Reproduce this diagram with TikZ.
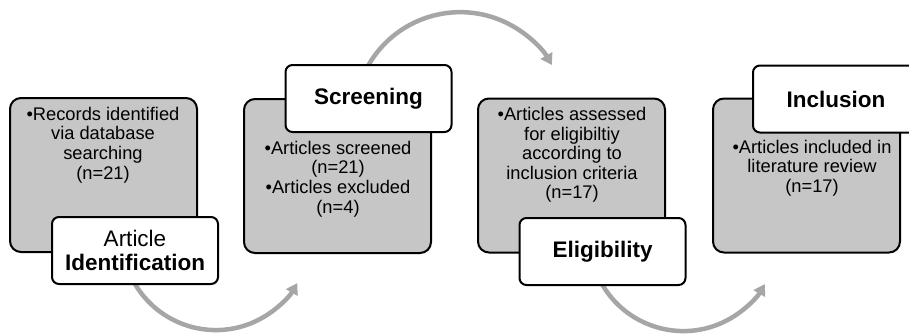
\documentclass[tikz,border=0pt]{standalone}
\usepackage{fontspec}
\setmainfont{Liberation Sans}
\usetikzlibrary{arrows.meta}
\definecolor{boxgray}{HTML}{C6C6C6}
\definecolor{arrgray}{HTML}{A6A6A6}
\tikzset{
  graybox/.style={draw=black, line width=2pt, fill=boxgray, rounded corners=11pt,
    minimum width=187pt, minimum height=154pt, inner sep=0pt},
  labelbox/.style={draw=black, line width=2pt, fill=white, rounded corners=7pt,
    minimum width=166pt, minimum height=67pt, inner sep=0pt, align=center,
    font=\fontsize{22.5}{24}\selectfont},
  bodytext/.style={align=center, inner sep=0pt, font=\fontsize{18.3}{19.6}\selectfont},
  flowarrow/.style={draw=arrgray, line width=4.5pt, -{Triangle[length=11pt,width=13pt]}}
}
\begin{document}
\begin{tikzpicture}[x=1pt,y=-1pt]
\clip (0,0) rectangle (909,333);
\fill[white] (0,0) rectangle (909,333);
% gray boxes
\node[graybox] (b1) at (103.5,175) {};
\node[graybox] (b2) at (337.5,176) {};
\node[graybox] (b3) at (571.5,175.5) {};
\node[graybox] (b4) at (806.5,175.5) {};
% body texts
\node[bodytext] (t1) at (103,145) {•Records identified\\via database\\searching\\(n=21)};
\node[bodytext] (t2) at (338,179) {•Articles screened\\(n=21)\\•Articles excluded\\(n=4)};
\node[bodytext] (t3) at (572,155) {•Articles assessed\\for eligibiltiy\\according to\\inclusion criteria\\(n=17)};
\node[bodytext] (t4) at (812,168) {•Articles included in\\literature review\\(n=17)};
% arrows (drawn below the label boxes)
\draw[flowarrow] (135,284) coordinate (a1s) arc[start angle=210.65, end angle=330, radius=94pt] coordinate (a1e);
\draw[flowarrow] (368.5,65) coordinate (a2s) arc[start angle=149.9, end angle=30.1, radius=106pt] coordinate (a2e);
\draw[flowarrow] (602.5,285) coordinate (a3s) arc[start angle=210.65, end angle=330, radius=94pt] coordinate (a3e);
% label boxes
\node[labelbox] (l1) at (135,250.5) {Article\\\textbf{Identification}};
\node[labelbox] (l2) at (368.5,98.5) {\textbf{Screening}};
\node[labelbox] (l3) at (602.5,251.5) {\textbf{Eligibility}};
\node[labelbox] (l4) at (836,99) {\textbf{Inclusion}};
\end{tikzpicture}
\end{document}
